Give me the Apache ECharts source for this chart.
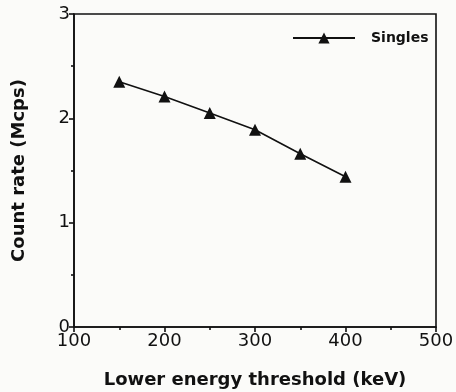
<!DOCTYPE html>
<html>
<head>
<meta charset="utf-8">
<script src="https://cdn.jsdelivr.net/npm/echarts@6/dist/echarts.min.js"></script>
<style>
  html, body { margin: 0; padding: 0; background: #fbfbf9; }
  #chart { width: 456px; height: 392px; }
</style>
</head>
<body>
<div id="chart"></div>
<script>
// Lower energy threshold (keV) vs singles count rate (Mcps)
const thresholds = [150, 200, 250, 300, 350, 400];
const singles = [2.35, 2.21, 2.05, 1.89, 1.66, 1.44];
const seriesName = 'Singles';

const FONT = 'DejaVu Sans';
const INK = '#111';

const chart = echarts.init(document.getElementById('chart'));
chart.setOption({
  backgroundColor: '#fbfbf9',
  animation: false,
  grid: {
    left: 74, right: 20, top: 14, bottom: 65,
    containLabel: false, outerBoundsMode: 'none',
    show: true, borderColor: INK, borderWidth: 1.6, backgroundColor: 'transparent'
  },
  legend: {
    data: [seriesName],
    left: 287, top: 26,
    itemWidth: 62, itemHeight: 14,
    textStyle: { fontFamily: FONT, fontWeight: 'bold', fontSize: 14, color: INK, padding: [0, 0, 0, 11] }
  },
  xAxis: {
    type: 'value', min: 100, max: 500, interval: 100,
    name: 'Lower energy threshold (keV)',
    nameLocation: 'middle', nameGap: 44,
    nameTextStyle: { fontFamily: FONT, fontWeight: 'bold', fontSize: 18, color: INK },
    axisLine: { lineStyle: { color: INK, width: 1.6 } },
    axisTick: { show: true, inside: false, length: 5, lineStyle: { color: INK, width: 1.6 } },
    minorTick: { show: true, splitNumber: 2, length: 3, lineStyle: { color: INK, width: 1.6 } },
    splitLine: { show: false },
    axisLabel: { fontFamily: FONT, fontSize: 18, color: INK, margin: 5 }
  },
  yAxis: {
    type: 'value', min: 0, max: 3, interval: 1,
    name: 'Count rate (Mcps)',
    nameLocation: 'middle', nameGap: 46,
    nameTextStyle: { fontFamily: FONT, fontWeight: 'bold', fontSize: 18, color: INK },
    axisLine: { show: true, lineStyle: { color: INK, width: 1.6 } },
    axisTick: { show: true, inside: false, length: 5, lineStyle: { color: INK, width: 1.6 } },
    minorTick: { show: true, splitNumber: 2, length: 3, lineStyle: { color: INK, width: 1.6 } },
    splitLine: { show: false },
    axisLabel: { fontFamily: FONT, fontSize: 18, color: INK, margin: 4 }
  },
  series: [{
    name: seriesName,
    type: 'line',
    data: thresholds.map((t, i) => [t, singles[i]]),
    symbol: 'triangle',
    symbolSize: 12,
    itemStyle: { color: INK },
    lineStyle: { color: INK, width: 1.6 }
  }]
});
</script>
</body>
</html>
